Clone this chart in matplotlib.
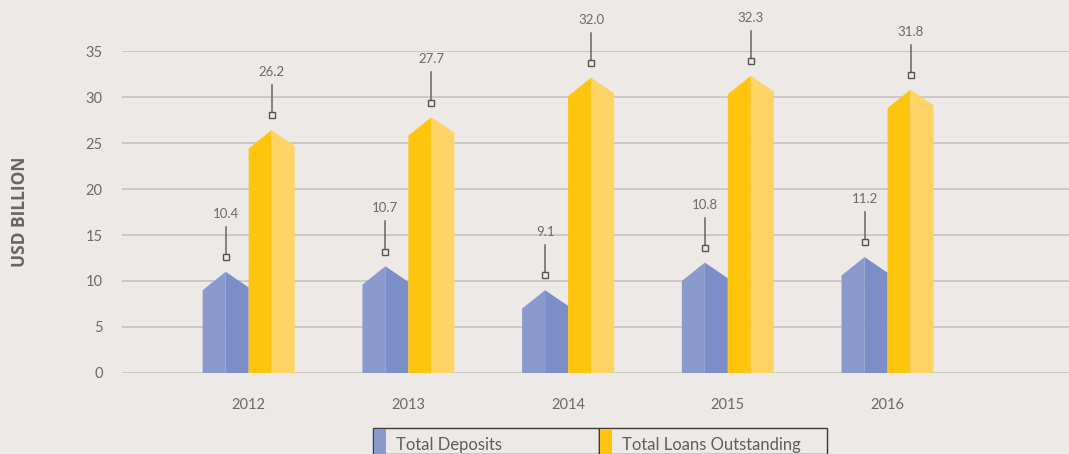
import matplotlib
matplotlib.use("Agg")
import matplotlib.pyplot as plt
from matplotlib.patches import Polygon, Rectangle

plt.rcParams['font.family'] = ['Lato', 'DejaVu Sans']

years = ["2012", "2013", "2014", "2015", "2016"]
deposit_labels = [10.4, 10.7, 9.1, 10.8, 11.2]
loan_labels = [26.2, 27.7, 32.0, 32.3, 31.8]
# drawn bar peak heights
deposit_heights = [11.0, 11.6, 9.0, 12.0, 12.6]
loan_heights = [26.4, 27.8, 32.1, 32.3, 30.8]
yticks = [0, 5, 10, 15, 20, 25, 30, 35]

BG = "#ECE9E6"
TXT = "#6B6B6B"
DEP_L, DEP_R = "#8A9ACD", "#7B8EC8"
LOAN_L, LOAN_R = "#FFC50E", "#FFD466"

W, H = 1069, 454
fig = plt.figure(figsize=(W / 100, H / 100), dpi=100, facecolor=BG)
ax = fig.add_axes([122 / W, (H - 373) / H, (W - 122) / W, 322 / H])
ax.set_facecolor(BG)
ax.set_xlim(-0.793, 5.136)
ax.set_ylim(0, 35)

for s in ax.spines.values():
    s.set_visible(False)
ax.set_yticks(yticks)
ax.set_yticklabels([str(v) for v in yticks])
ax.tick_params(axis='y', length=0, pad=14, labelsize=10.5, labelcolor=TXT)
ax.set_xticks(range(len(years)))
ax.set_xticklabels(years)
ax.tick_params(axis='x', length=0, pad=18, labelsize=10.5, labelcolor=TXT)
ax.grid(axis='y', color="#C6C3C1", lw=1.2)
ax.set_axisbelow(True)

bw = 0.288
drop_l, drop_r = 2.0, 1.7


def draw_bar(x0, h, cl, cr):
    xm = x0 + bw / 2
    x1 = x0 + bw
    ax.add_patch(Polygon([(x0, 0), (x0, h - drop_l), (xm, h), (xm, 0)],
                         closed=True, facecolor=cl, edgecolor='none', zorder=3))
    ax.add_patch(Polygon([(xm, 0), (xm, h), (x1, h - drop_r), (x1, 0)],
                         closed=True, facecolor=cr, edgecolor='none', zorder=3))


def annotate(xc, h, label):
    ym = h + 1.6
    ax.plot([xc, xc], [ym, ym + 3.3], color="#666666", lw=1.1, zorder=4, clip_on=False)
    ax.plot([xc], [ym], marker='s', ms=4.5, mfc=BG, mec="#555555", mew=1.0,
            zorder=5, clip_on=False)
    ax.text(xc, ym + 3.3 + 1.4, label, ha='center', va='center', fontsize=9.5,
            color=TXT, clip_on=False)


for i in range(len(years)):
    draw_bar(i - bw, deposit_heights[i], DEP_L, DEP_R)
    draw_bar(i, loan_heights[i], LOAN_L, LOAN_R)
    annotate(i - bw / 2, deposit_heights[i], f"{deposit_labels[i]:.1f}")
    annotate(i + bw / 2, loan_heights[i], f"{loan_labels[i]:.1f}")

fig.text(20 / W, 1 - 212 / H, "USD BILLION", rotation=90, ha='center', va='center',
         fontsize=12.5, fontweight='bold', color="#666666",
         family=['Open Sans', 'DejaVu Sans'])

# legend boxes
leg = [("Total Deposits", DEP_L, 373, 599), ("Total Loans Outstanding", LOAN_L, 599, 827)]
for text, col, x0, x1 in leg:
    fig.patches.append(Rectangle((x0 / W, 0), (x1 - x0) / W, (H - 428) / H,
                                 transform=fig.transFigure, facecolor='none',
                                 edgecolor="#3A3A3A", lw=1.0))
    fig.patches.append(Rectangle((x0 / W + 0.5 / W, 0), 12 / W, (H - 428.5) / H,
                                 transform=fig.transFigure, facecolor=col,
                                 edgecolor='none'))
    fig.text((x0 + 23) / W, 1 - 450 / H, text, ha='left', va='baseline',
             fontsize=12, color="#5E5E5E")

fig.savefig("out.png", dpi=100, facecolor=BG)
